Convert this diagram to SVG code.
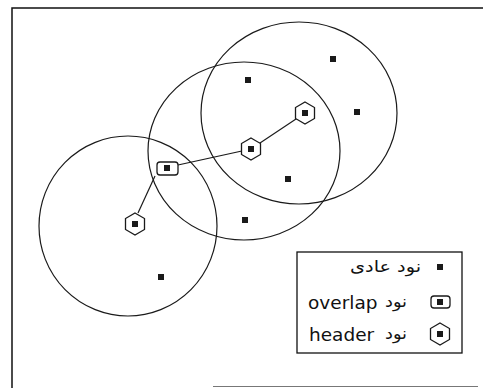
<svg xmlns="http://www.w3.org/2000/svg" width="483" height="388" viewBox="0 0 483 388">
<defs>
<style>
.frame{fill:none;stroke:#111;stroke-width:1.5}
.range{fill:none;stroke:#1a1a1a;stroke-width:1.2}
.edge{stroke:#1a1a1a;stroke-width:1.2}
.dot{fill:#1a1a1a}
.shape{fill:#fff;stroke:#1a1a1a;stroke-width:1.3}
.en{font-family:"DejaVu Sans",sans-serif;font-size:18.5px;fill:#111}
.ar{font-family:"DejaVu Sans","Noto Sans",sans-serif;font-size:16px;fill:#111}
</style>
<rect id="sq" x="-3" y="-3" width="6" height="6"/>
<polygon id="hex" points="0,-11 9.5,-5.5 9.5,5.5 0,11 -9.5,5.5 -9.5,-5.5"/>
</defs>
<rect width="483" height="388" fill="#fff"/>
<path class="frame" d="M12,388 V8 H483"/>
<path d="M213,386.5 H478" fill="none" stroke="#777" stroke-width="1.2"/>
<g id="ranges">
<ellipse class="range" cx="128" cy="226" rx="89" ry="90"/>
<ellipse class="range" cx="244" cy="151" rx="96" ry="89"/>
<ellipse class="range" cx="299" cy="113" rx="98" ry="91"/>
</g>
<g id="connectors">
<line class="edge" x1="305" y1="113" x2="251" y2="149"/>
<line class="edge" x1="251" y1="149" x2="178" y2="165"/>
<line class="edge" x1="155" y1="176" x2="138" y2="213"/>
</g>
<g id="n1"><use href="#sq" class="dot" x="333" y="59"/></g>
<g id="n2"><use href="#sq" class="dot" x="248" y="80"/></g>
<g id="n3"><use href="#sq" class="dot" x="357" y="112"/></g>
<g id="n4"><use href="#sq" class="dot" x="288" y="179"/></g>
<g id="n5"><use href="#sq" class="dot" x="245" y="220"/></g>
<g id="n6"><use href="#sq" class="dot" x="161" y="277"/></g>
<g id="overlap1"><rect class="shape" x="157" y="162" width="21" height="13" rx="3"/><use href="#sq" class="dot" x="167" y="168"/></g>
<g id="header1"><use href="#hex" class="shape" x="305" y="113"/><use href="#sq" class="dot" x="305" y="113"/></g>
<g id="header2"><use href="#hex" class="shape" x="251" y="149"/><use href="#sq" class="dot" x="251" y="149"/></g>
<g id="header3"><use href="#hex" class="shape" x="135" y="224"/><use href="#sq" class="dot" x="135" y="224"/></g>
<g id="legend">
<rect x="297" y="252" width="165" height="101" fill="#fff" stroke="#111" stroke-width="1.3"/>
<use href="#sq" class="dot" x="440" y="267"/>
<text class="ar" x="350" y="272" textLength="71" lengthAdjust="spacingAndGlyphs">نود عادی</text>
<rect class="shape" x="431" y="296" width="19" height="12" rx="3"/>
<use href="#sq" class="dot" x="440" y="302"/>
<text class="ar" x="385" y="307" textLength="22" lengthAdjust="spacingAndGlyphs">نود</text>
<text class="en" x="308" y="309">overlap</text>
<use href="#hex" class="shape" x="440" y="334"/>
<use href="#sq" class="dot" x="440" y="334"/>
<text class="ar" x="385" y="339" textLength="22" lengthAdjust="spacingAndGlyphs">نود</text>
<text class="en" x="309" y="341">header</text>
</g>
</svg>
